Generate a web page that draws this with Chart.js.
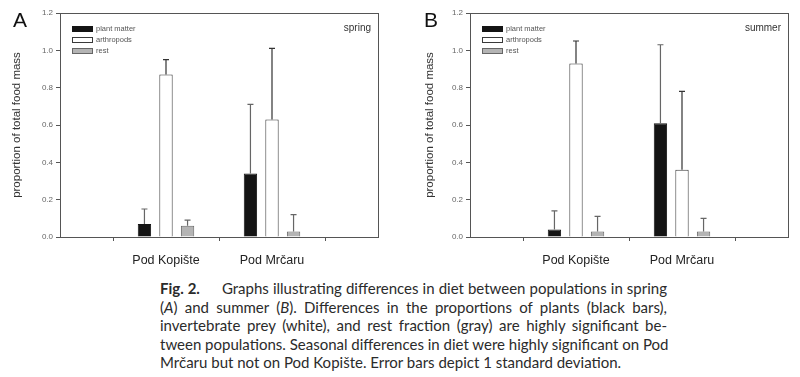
<!DOCTYPE html>
<html>
<head>
<meta charset="utf-8">
<script src="https://cdn.jsdelivr.net/npm/chart.js@4.4.1/dist/chart.umd.min.js"></script>
<style>
  body { margin: 0; background: #fff; width: 800px; height: 377px; position: relative; overflow: hidden; }
  canvas { position: absolute; top: 0; }
  #caption { position: absolute; left: 160px; top: 279px; width: 507px; font-family: Lato, sans-serif;
             font-size: 15px; line-height: 18.5px; color: #2b2b2b; }
  #caption div { white-space: nowrap; text-align: justify; text-align-last: justify; }
  #caption div.last { text-align-last: left; }
</style>
</head>
<body>
<canvas id="chartA" width="390" height="275" style="left:0"></canvas>
<canvas id="chartB" width="400" height="275" style="left:400px"></canvas>
<div id="caption">
  <div><b>Fig. 2.</b><span style="display:inline-block;width:22px"></span>Graphs illustrating differences in diet between populations in spring</div>
  <div>(<i>A</i>) and summer (<i>B</i>). Differences in the proportions of plants (black bars),</div>
  <div>invertebrate prey (white), and rest fraction (gray) are highly significant be-</div>
  <div>tween populations. Seasonal differences in diet were highly significant on Pod</div>
  <div class="last">Mrčaru but not on Pod Kopište. Error bars depict 1 standard deviation.</div>
</div>
<script>
// x categories (empty ends leave room on both sides like the original plot)
const groups = ['', 'Pod Kopište', 'Pod Mrčaru', ''];
const seriesNames = ['plant matter', 'arthropods', 'rest'];
const yTicks = [0, 0.2, 0.4, 0.6, 0.8, 1.0, 1.2];

// spring (A)
const springPlant = [null, 0.07, 0.34, null];
const springArthro = [null, 0.87, 0.63, null];
const springRest = [null, 0.06, 0.03, null];
const springPlantSd = [null, 0.08, 0.37, null];
const springArthroSd = [null, 0.08, 0.38, null];
const springRestSd = [null, 0.03, 0.09, null];

// summer (B)
const summerPlant = [null, 0.04, 0.61, null];
const summerArthro = [null, 0.93, 0.36, null];
const summerRest = [null, 0.03, 0.03, null];
const summerPlantSd = [null, 0.10, 0.42, null];
const summerArthroSd = [null, 0.12, 0.42, null];
const summerRestSd = [null, 0.08, 0.07, null];

const fills = ['#141414', '#ffffff', '#b4b4b4'];
const borders = ['#141414', '#3a3a3a', '#666666'];

// draws frame, error bars, legend, season text and panel letter
const extras = {
  id: 'extras',
  afterDatasetsDraw(chart, args, opts) {
    const ctx = chart.ctx;
    const a = chart.chartArea;
    const y = chart.scales.y;
    ctx.save();
    // error bars (mean + 1 SD, upward only)
    chart.data.datasets.forEach((ds, i) => {
      const meta = chart.getDatasetMeta(i);
      meta.data.forEach((bar, j) => {
        const v = ds.data[j];
        const sd = ds.sd[j];
        if (v == null || sd == null) return;
        const top = y.getPixelForValue(v + sd);
        ctx.strokeStyle = i === 1 ? '#333' : '#666';
        ctx.lineWidth = 1.2;
        ctx.beginPath();
        ctx.moveTo(bar.x, bar.y);
        ctx.lineTo(bar.x, top);
        ctx.moveTo(bar.x - 3, top);
        ctx.lineTo(bar.x + 3, top);
        ctx.stroke();
      });
    });
    // frame
    ctx.strokeStyle = '#555';
    ctx.lineWidth = 1;
    ctx.strokeRect(Math.round(a.left) + 0.5, Math.round(a.top) + 0.5,
                   Math.round(a.right - a.left), Math.round(a.bottom - a.top));
    // legend
    ctx.font = '7.5px "Liberation Sans", Arial, sans-serif';
    ctx.textBaseline = 'middle';
    const rows = [29, 40, 51];
    chart.data.datasets.forEach((ds, i) => {
      const sx = a.left + 12, sy = rows[i] - 3;
      ctx.fillStyle = ds.backgroundColor;
      ctx.fillRect(sx, sy, 20, 6);
      ctx.strokeStyle = ds.borderColor;
      ctx.strokeRect(sx + 0.5, sy + 0.5, 20, 5);
      ctx.fillStyle = '#555';
      ctx.fillText(ds.label, sx + 24, rows[i]);
    });
    // season label
    ctx.font = '10px "Liberation Sans", Arial, sans-serif';
    ctx.fillStyle = '#333';
    ctx.textAlign = 'right';
    ctx.fillText(opts.season, a.right - 7, 28);
    // panel letter
    ctx.font = '21px "Liberation Sans", Arial, sans-serif';
    ctx.fillStyle = '#111';
    ctx.textAlign = 'center';
    ctx.fillText(opts.letter, opts.letterX, 21);
    ctx.restore();
  }
};

function makePanel(id, letter, letterX, season, plant, arthro, rest, plantSd, arthroSd, restSd, yWidth, titlePad) {
  const series = [plant, arthro, rest];
  const sds = [plantSd, arthroSd, restSd];
  new Chart(document.getElementById(id), {
    type: 'bar',
    data: {
      labels: groups,
      datasets: series.map((d, i) => ({
        label: seriesNames[i],
        data: d,
        sd: sds[i],
        backgroundColor: fills[i],
        borderColor: borders[i],
        borderWidth: 1,
        categoryPercentage: 0.61,
        barPercentage: 0.62
      }))
    },
    options: {
      responsive: false,
      animation: false,
      devicePixelRatio: 1,
      layout: { padding: { left: 0, right: 9, top: 13, bottom: 0 } },
      plugins: {
        legend: { display: false },
        tooltip: { enabled: false },
        extras: { letter: letter, letterX: letterX, season: season }
      },
      scales: {
        x: {
          offset: false,
          grid: { display: true, drawOnChartArea: false, tickLength: 4, color: '#555' },
          border: { display: true, color: '#555' },
          ticks: {
            autoSkip: false, maxRotation: 0, padding: 12,
            color: '#222',
            font: { family: '"Liberation Sans", Arial, sans-serif', size: 12.5 }
          },
          afterFit: s => { s.height = 38; }
        },
        y: {
          min: 0, max: 1.2,
          afterBuildTicks: s => { s.ticks = yTicks.map(v => ({ value: v })); },
          grid: { display: true, drawOnChartArea: false, tickLength: 4, color: '#555' },
          border: { display: true, color: '#555' },
          ticks: {
            padding: 3, color: '#666',
            font: { family: '"Liberation Sans", Arial, sans-serif', size: 8 },
            callback: v => v.toFixed(1)
          },
          title: {
            display: true, text: 'proportion of total food mass', color: '#333',
            padding: { top: titlePad, bottom: 0 },
            font: { family: '"Liberation Sans", Arial, sans-serif', size: 11.5 }
          },
          afterFit: s => { s.width = yWidth; }
        }
      }
    },
    plugins: [extras]
  });
}

makePanel('chartA', 'A', 20, 'spring', springPlant, springArthro, springRest,
          springPlantSd, springArthroSd, springRestSd, 60, 10);
makePanel('chartB', 'B', 31, 'summer', summerPlant, summerArthro, summerRest,
          summerPlantSd, summerArthroSd, summerRestSd, 70, 23);
</script>
</body>
</html>
